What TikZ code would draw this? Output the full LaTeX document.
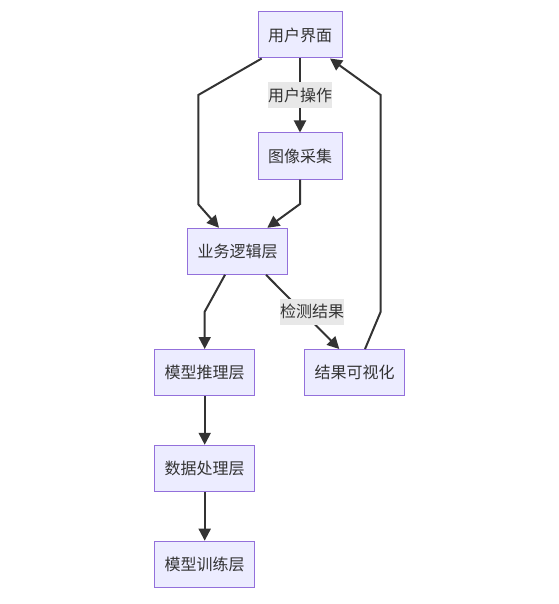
\documentclass[tikz,border=0pt]{standalone}
\usepackage{fontspec}
\setmainfont{Noto Sans CJK SC}
\usetikzlibrary{arrows.meta}
\definecolor{nodefill}{HTML}{ECECFF}
\definecolor{nodeline}{HTML}{9370DB}
\definecolor{edgecol}{HTML}{333333}
\definecolor{lblbg}{HTML}{E8E8E8}
\tikzset{
  box/.style={draw=nodeline, fill=nodefill, line width=1pt, minimum height=46pt, inner xsep=10pt, inner ysep=0pt, text=edgecol, font=\fontsize{16pt}{18pt}\selectfont},
  lbl/.style={fill=lblbg, inner xsep=0pt, inner ysep=0pt, minimum height=26pt, text=edgecol, font=\fontsize{16pt}{18pt}\selectfont},
  arr/.style={draw=edgecol, line width=2pt, -{Triangle[length=12pt,width=12pt]}}
}
\begin{document}
\begin{tikzpicture}[x=1pt,y=-1pt]
\useasboundingbox (0,0) rectangle (558,604);
\node[box] (ui) at (300,35) {用户界面};
\node[box] (cap) at (300,156) {图像采集};
\node[box] (biz) at (237.5,251.3) {业务逻辑层};
\node[box] (inf) at (204.7,372.5) {模型推理层};
\node[box] (vis) at (354.7,372.5) {结果可视化};
\node[box] (data) at (204.7,468.3) {数据处理层};
\node[box] (train) at (204.7,564.2) {模型训练层};
\coordinate (a1) at (198.3,95);
\coordinate (a2) at (198.3,204.3);
\coordinate (c1) at (300,204);
\coordinate (d1) at (204.7,311.7);
\coordinate (v1) at (380.7,311.7);
\coordinate (v2) at (380.7,95);
\draw[arr] (ui) -- (cap);
\draw[arr] ([xshift=-38.3pt]ui.south) -- (a1) -- (a2) -- ([xshift=-18.5pt]biz.north);
\draw[arr] (cap.south) -- (c1) -- ([xshift=29.8pt]biz.north);
\draw[arr] ([xshift=-12.5pt]biz.south) -- (d1) -- (inf.north);
\draw[arr] ([xshift=28.5pt]biz.south) -- ([xshift=-15.4pt]vis.north);
\draw[arr] ([xshift=10.3pt]vis.north) -- (v1) -- (v2) -- ([xshift=30pt]ui.south);
\draw[arr] (inf) -- (data);
\draw[arr] (data) -- (train);
\node[lbl] (l1) at (300,95.3) {用户操作};
\node[lbl] (l2) at (312,311.7) {检测结果};
\end{tikzpicture}
\end{document}
